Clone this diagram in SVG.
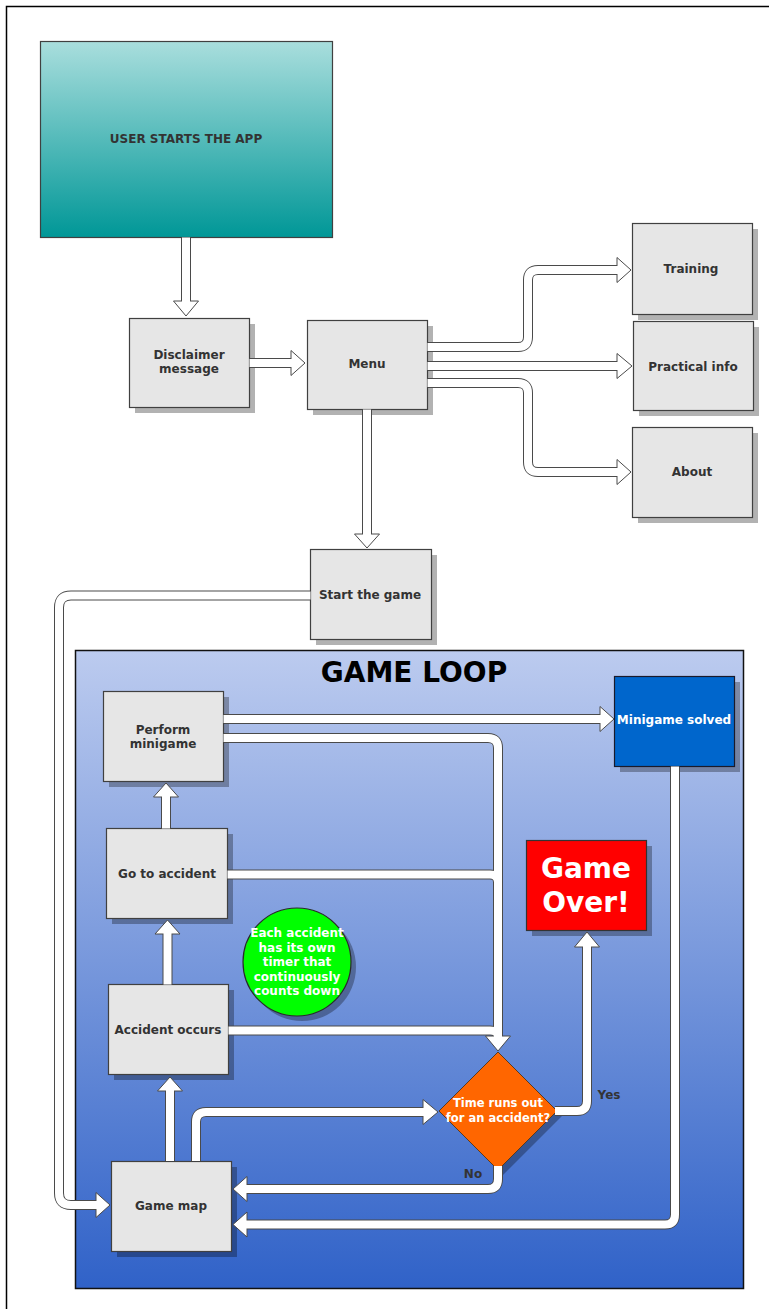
<svg xmlns="http://www.w3.org/2000/svg" xmlns:xlink="http://www.w3.org/1999/xlink" width="769" height="1309" viewBox="0 0 769 1309">
  <defs>
    <linearGradient id="gTeal" x1="0" y1="0" x2="0" y2="1">
      <stop offset="0" stop-color="#a9dedd"/>
      <stop offset="1" stop-color="#009797"/>
    </linearGradient>
    <linearGradient id="gLoop" x1="0" y1="0" x2="0" y2="1">
      <stop offset="0" stop-color="#bccbef"/>
      <stop offset="1" stop-color="#3062c8"/>
    </linearGradient>
    <style>
      .box { fill: #e6e6e6; stroke: #404040; stroke-width: 1.2; }
      .sh { fill: #000; fill-opacity: 0.3; }
      .t { font-family: "DejaVu Sans", Verdana, sans-serif; font-weight: bold; font-size: 12px; fill: #333; text-anchor: middle; dominant-baseline: central; }
      .w { fill: #fff; }
      .big { font-size: 28px; }
      .o { fill: none; stroke: #4a4a4a; stroke-width: 10; }
      .i { fill: none; stroke: #fff; stroke-width: 8; }
      .h { fill: #fff; stroke: #4a4a4a; stroke-width: 1; stroke-linejoin: miter; }
    </style>
    <!-- connector centerlines, used twice: dark outline, then white core -->
    <path id="p1" d="M186,237.5 V302"/>
    <path id="p2" d="M249.5,363 H292"/>
    <path id="p3" d="M427.5,347 H518 Q528,347 528,337 V280 Q528,270 538,270 H618"/>
    <path id="p4" d="M427.5,366 H618"/>
    <path id="p5" d="M427.5,383 H518 Q528,383 528,393 V462 Q528,472 538,472 H618"/>
    <path id="p6" d="M367,409.5 V535"/>
    <path id="p7" d="M310.5,595.5 H71 Q59,595.5 59,607.5 V1193 Q59,1205 71,1205 H97"/>
    <path id="p8" d="M223.5,719 H601"/>
    <path id="p9" d="M223.5,738 H488 Q498,738 498,748 V1037"/>
    <path id="p10" d="M227.5,874.5 H490 Q498,874.5 498,882.5"/>
    <path id="p11" d="M228.5,1030.5 H490 Q498,1030.5 498,1037"/>
    <path id="p12" d="M170,1161 V1090"/>
    <path id="p13" d="M167.5,984.5 V933"/>
    <path id="p14" d="M166,828.5 V796"/>
    <path id="p15" d="M196,1161 V1122 Q196,1112 206,1112 H424"/>
    <path id="p16" d="M555,1111 H577 Q587,1111 587,1101 V946"/>
    <path id="p17" d="M498,1166 V1179 Q498,1189 488,1189 H246"/>
    <path id="p18" d="M675,766.5 V1214.5 Q675,1224.5 665,1224.5 H246"/>
  </defs>

  <rect width="769" height="1309" fill="#fff"/>
  <!-- page frame (top and left edges) -->
  <path d="M6.5,1309 V6.5 H769" fill="none" stroke="#000" stroke-width="1.5"/>

  <g id="n-user-starts">
    <rect x="40.5" y="41.5" width="292" height="196" fill="url(#gTeal)" stroke="#404040" stroke-width="1.2"/>
    <text class="t" x="186" y="139">USER STARTS THE APP</text>
  </g>

  <g id="n-disclaimer">
    <rect class="sh" x="135" y="324" width="120" height="89"/>
    <rect class="box" x="129.5" y="318.5" width="120" height="89"/>
    <text class="t" x="189" y="355">Disclaimer</text>
    <text class="t" x="189" y="369">message</text>
  </g>

  <g id="n-menu">
    <rect class="sh" x="313" y="326" width="120" height="89"/>
    <rect class="box" x="307.5" y="320.5" width="120" height="89"/>
    <text class="t" x="367" y="364">Menu</text>
  </g>

  <g id="n-training">
    <rect class="sh" x="638" y="229" width="120" height="91"/>
    <rect class="box" x="632.5" y="223.5" width="120" height="91"/>
    <text class="t" x="691" y="269">Training</text>
  </g>

  <g id="n-practical">
    <rect class="sh" x="639" y="327" width="120" height="89"/>
    <rect class="box" x="633.5" y="321.5" width="120" height="89"/>
    <text class="t" x="693" y="367">Practical info</text>
  </g>

  <g id="n-about">
    <rect class="sh" x="638" y="433" width="120" height="90"/>
    <rect class="box" x="632.5" y="427.5" width="120" height="90"/>
    <text class="t" x="692" y="472">About</text>
  </g>

  <g id="n-start-game">
    <rect class="sh" x="316" y="555" width="121" height="90"/>
    <rect class="box" x="310.5" y="549.5" width="121" height="90"/>
    <text class="t" x="370" y="595">Start the game</text>
  </g>

  <g id="n-game-loop">
    <rect x="75.5" y="650.5" width="668" height="638" fill="url(#gLoop)" stroke="#111" stroke-width="1.5"/>
    <text class="t big" x="414" y="672" fill="#000" style="fill:#000">GAME LOOP</text>
  </g>

  <g id="n-perform">
    <rect class="sh" x="109" y="697" width="120" height="90"/>
    <rect class="box" x="103.5" y="691.5" width="120" height="90"/>
    <text class="t" x="163" y="730">Perform</text>
    <text class="t" x="163" y="744">minigame</text>
  </g>

  <g id="n-solved">
    <rect class="sh" x="620" y="682" width="120" height="90"/>
    <rect x="614.5" y="676.5" width="120" height="90" fill="#0066cc" stroke="#1a1a2a" stroke-width="1.2"/>
    <text class="t w" x="674" y="720" style="fill:#fff">Minigame solved</text>
  </g>

  <g id="n-go-to-accident">
    <rect class="sh" x="112" y="834" width="121" height="90"/>
    <rect class="box" x="106.5" y="828.5" width="121" height="90"/>
    <text class="t" x="167" y="874">Go to accident</text>
  </g>

  <g id="n-timer-note">
    <circle cx="302" cy="967" r="54" class="sh"/>
    <circle cx="297" cy="962" r="54" fill="#00ff00" stroke="#2a2a2a" stroke-width="1.2"/>
    <text class="t" style="fill:#fff" x="297" y="933">Each accident</text>
    <text class="t" style="fill:#fff" x="297" y="948">has its own</text>
    <text class="t" style="fill:#fff" x="297" y="962">timer that</text>
    <text class="t" style="fill:#fff" x="297" y="977">continuously</text>
    <text class="t" style="fill:#fff" x="297" y="991">counts down</text>
  </g>

  <g id="n-accident-occurs">
    <rect class="sh" x="114" y="990" width="120" height="90"/>
    <rect class="box" x="108.5" y="984.5" width="120" height="90"/>
    <text class="t" x="168" y="1030">Accident occurs</text>
  </g>

  <g id="n-game-over">
    <rect class="sh" x="532" y="846" width="120" height="90"/>
    <rect x="526.5" y="840.5" width="120" height="90" fill="#ff0000" stroke="#333" stroke-width="1.2"/>
    <text class="t big" style="fill:#fff" x="586" y="868">Game</text>
    <text class="t big" style="fill:#fff" x="586" y="902">Over!</text>
  </g>

  <g id="n-decision">
    <polygon class="sh" points="503,1057 562,1116 503,1175 444,1116"/>
    <polygon points="498,1052 557,1111 498,1170 439,1111" fill="#ff6600" stroke="#5a3a20" stroke-width="1"/>
    <text class="t" style="fill:#fff;font-size:11.5px" x="498" y="1103">Time runs out</text>
    <text class="t" style="fill:#fff;font-size:11.5px" x="498" y="1118">for an accident?</text>
  </g>

  <g id="n-game-map">
    <rect class="sh" x="117" y="1167" width="120" height="90"/>
    <rect class="box" x="111.5" y="1161.5" width="120" height="90"/>
    <text class="t" x="171" y="1206">Game map</text>
  </g>

  <g id="connectors">
    <g class="o">
      <use href="#p1"/><use href="#p2"/><use href="#p3"/><use href="#p4"/><use href="#p5"/><use href="#p6"/>
      <use href="#p7"/><use href="#p8"/><use href="#p9"/><use href="#p10"/><use href="#p11"/><use href="#p12"/>
      <use href="#p13"/><use href="#p14"/><use href="#p15"/><use href="#p16"/><use href="#p17"/><use href="#p18"/>
    </g>
    <g class="h">
      <polygon points="173.5,301 198.5,301 186,316"/>
      <polygon points="291,350.5 291,375.5 305,363"/>
      <polygon points="617,257.5 617,282.5 631,270"/>
      <polygon points="617,353.5 617,378.5 632,366"/>
      <polygon points="617,459.5 617,484.5 631,472"/>
      <polygon points="354.5,534 379.5,534 367,548"/>
      <polygon points="96,1192.5 96,1217.5 110,1205"/>
      <polygon points="600,706.5 600,731.5 614,719"/>
      <polygon points="485.5,1036 510.5,1036 498,1051"/>
      <polygon points="157.5,1091 182.5,1091 170,1077"/>
      <polygon points="155,934 180,934 167.5,920"/>
      <polygon points="153.5,797 178.5,797 166,783"/>
      <polygon points="423,1099.5 423,1124.5 438,1112"/>
      <polygon points="574.5,947 599.5,947 587,932"/>
      <polygon points="247,1176.5 247,1201.5 233,1189"/>
      <polygon points="247,1212 247,1237 233,1224.5"/>
    </g>
    <g class="i">
      <use href="#p1"/><use href="#p2"/><use href="#p3"/><use href="#p4"/><use href="#p5"/><use href="#p6"/>
      <use href="#p7"/><use href="#p8"/><use href="#p9"/><use href="#p10"/><use href="#p11"/><use href="#p12"/>
      <use href="#p13"/><use href="#p14"/><use href="#p15"/><use href="#p16"/><use href="#p17"/><use href="#p18"/>
    </g>
    <text class="t" x="609" y="1095">Yes</text>
    <text class="t" x="473" y="1174">No</text>
  </g>
</svg>
